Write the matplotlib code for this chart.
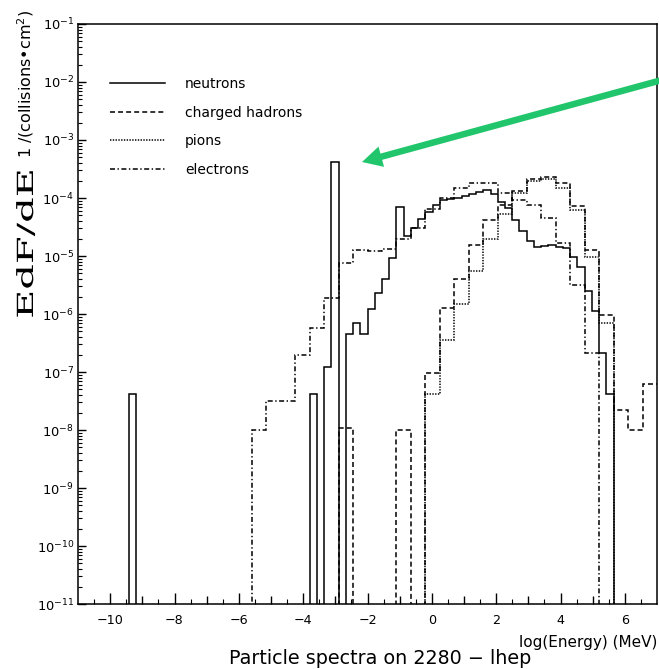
import numpy as np
import matplotlib
matplotlib.use('Agg')
import matplotlib.pyplot as plt
from matplotlib.lines import Line2D
from matplotlib.patches import FancyArrow
from matplotlib.patheffects import AbstractPathEffect
from matplotlib.transforms import Affine2D
from matplotlib.ticker import FixedLocator, LogLocator, NullFormatter, FuncFormatter

plt.rcParams['font.family'] = ['DejaVu Sans']
plt.rcParams['mathtext.default'] = 'regular'
plt.rcParams['lines.scale_dashes'] = False

# log10(E/MeV) range of the histograms
x_min, x_max = -11.0, 7.0

# neutrons: 80 bins of 0.225
neutrons = [
    0, 0, 0, 0, 0, 0, 0, 4.1e-8, 0, 0,
    0, 0, 0, 0, 0, 0, 0, 0, 0, 0,
    0, 0, 0, 0, 0, 0, 0, 0, 0, 0,
    0, 0, 4.1e-8, 0, 1.23e-7, 4.1e-4, 0, 4.6e-7, 7.1e-7, 4.6e-7,
    1.2e-6, 2.3e-6, 4.0e-6, 9.1e-6, 7.1e-5, 2.2e-5, 3.1e-5, 4.3e-5, 5.8e-5, 7.5e-5,
    9.2e-5, 9.5e-5, 1.0e-4, 1.1e-4, 1.17e-4, 1.27e-4, 1.39e-4, 1.17e-4, 8.7e-5, 6.8e-5,
    4.2e-5, 2.7e-5, 1.8e-5, 1.45e-5, 1.5e-5, 1.55e-5, 1.45e-5, 1.4e-5, 9.7e-6, 6.4e-6,
    2.5e-6, 1.12e-6, 2.1e-7, 4.1e-8, 0, 0, 0, 0, 0, 0,
]

# the other species: 40 bins of 0.45
charged_hadrons = [
    0, 0, 0, 0, 0, 0, 0, 0, 0, 0,
    0, 0, 0, 0, 0, 0, 0, 0, 1.07e-8, 0,
    0, 0, 1.0e-8, 0, 9.5e-8, 1.26e-6, 4.0e-6, 1.55e-5, 4.2e-5, 7.6e-5,
    1.3e-4, 2.1e-4, 2.3e-4, 1.8e-4, 7.3e-5, 1.27e-5, 9.6e-7, 2.2e-8, 1.0e-8, 6.3e-8,
]
pions = [
    0, 0, 0, 0, 0, 0, 0, 0, 0, 0,
    0, 0, 0, 0, 0, 0, 0, 0, 0, 0,
    0, 0, 0, 0, 4.1e-8, 3.6e-7, 1.5e-6, 5.6e-6, 2.0e-5, 5.4e-5,
    1.2e-4, 2.0e-4, 2.1e-4, 1.5e-4, 6.1e-5, 9.6e-6, 6.9e-7, 0, 0, 0,
]
electrons = [
    0, 0, 0, 0, 0, 0, 0, 0, 0, 0,
    0, 0, 1.0e-8, 3.2e-8, 3.2e-8, 2.0e-7, 5.8e-7, 1.9e-6, 7.5e-6, 1.27e-5,
    1.2e-5, 1.3e-5, 2.0e-5, 3.0e-5, 6.5e-5, 1.0e-4, 1.5e-4, 1.8e-4, 1.8e-4, 1.23e-4,
    9.2e-5, 7.6e-5, 4.5e-5, 1.7e-5, 3.2e-6, 2.1e-7, 0, 0, 0, 0,
]

labels = ['neutrons', 'charged hadrons', 'pions', 'electrons']
styles = ['-', (0, (3.6, 2.2)), (0, (1.0, 1.0)), (0, (3.6, 1.8, 1.0, 1.8))]


class Stretch(AbstractPathEffect):
    """Stretch a rotated text along its reading direction (display y)."""

    def __init__(self, sy):
        super().__init__()
        self.sy = sy

    def draw_path(self, renderer, gc, tpath, affine, rgbFace=None):
        pts = affine.transform(tpath.vertices)
        yc = 0.5 * (pts[:, 1].min() + pts[:, 1].max())
        extra = Affine2D().translate(0, -yc).scale(1, self.sy).translate(0, yc)
        renderer.draw_path(gc, tpath, affine + extra, rgbFace)


W, H = 659, 669
fig = plt.figure(figsize=(W / 100, H / 100), dpi=100)
ax = fig.add_axes([78 / W, 1 - 604 / H, 579 / W, 580 / H])

floor = 1e-14
for vals, ls in zip([neutrons, charged_hadrons, pions, electrons], styles):
    v = np.asarray(vals, dtype=float)
    edges = np.linspace(x_min, x_max, len(v) + 1)
    ax.stairs(np.where(v > 0, v, floor), edges, baseline=None,
              color='black', lw=1.1, linestyle=ls)

ax.set_yscale('log')
ax.set_xlim(x_min, x_max)
ax.set_ylim(1e-11, 1e-1)

for s in ax.spines.values():
    s.set_linewidth(1.1)

# y axis: decades, inward ticks
ax.yaxis.set_major_locator(LogLocator(base=10, numticks=20))
ax.yaxis.set_minor_locator(LogLocator(base=10, subs=np.arange(2, 10), numticks=20))
ax.yaxis.set_minor_formatter(NullFormatter())
ax.yaxis.set_major_formatter(FuncFormatter(lambda v, p: r'$10^{%d}$' % round(np.log10(v))))
ax.tick_params(axis='y', which='major', direction='in', length=5.8, width=1.0,
               labelsize=9.4, pad=3, right=False)
ax.tick_params(axis='y', which='minor', direction='in', length=2.9, width=0.8, right=False)

# x axis: long ticks at even, medium at odd, short at halves
ints = np.arange(-10, 7)
ax.xaxis.set_major_locator(FixedLocator(ints))
ax.xaxis.set_minor_locator(FixedLocator(np.arange(-10.5, 7.0, 1.0)))
ax.xaxis.set_major_formatter(FuncFormatter(lambda v, p: ('%d' % v).replace('-', '\u2212') if int(round(v)) % 2 == 0 else ''))
ax.tick_params(axis='x', which='major', direction='in', length=7.9, width=1.0,
               labelsize=9.2, pad=7, top=False)
ax.tick_params(axis='x', which='minor', direction='in', length=3.6, width=0.8, top=False)
for tick, loc in zip(ax.xaxis.get_major_ticks(), ints):
    if loc % 2 != 0:
        tick.tick1line.set_markersize(5.5)

handles = [Line2D([], [], color='black', lw=1.1, linestyle=ls) for ls in styles]
ax.legend(handles, labels, loc='upper left', bbox_to_anchor=(0.0553, 0.909),
          frameon=False, fontsize=10, handlelength=3.96, handletextpad=1.44,
          labelspacing=1.06, borderpad=0, borderaxespad=0)

# axis titles
fig.text(27 / W, 1 - 244 / H, 'EdF/dE', rotation=90, ha='center', va='center',
         family='DejaVu Serif', fontsize=16, path_effects=[Stretch(1.8)])
fig.text(26 / W, 1 - 84 / H, '1 /(collisions\u2022cm$^2$)', rotation=90,
         ha='center', va='center', fontsize=11.5)
fig.text(657 / W, 1 - 642 / H, 'log(Energy) (MeV)', ha='right', va='center', fontsize=11)
fig.text(380 / W, 1 - 658 / H, 'Particle spectra on 2280 \u2212 lhep',
         ha='center', va='center', fontsize=13.8)

# green pointer onto the low-energy neutron peak
fig.add_artist(FancyArrow(6.62, (H - 80) / 100, 3.62 - 6.62, (H - 162) / 100 - (H - 80) / 100,
                          width=0.065, head_width=0.21, head_length=0.2,
                          length_includes_head=True, color='#21c56b', lw=0,
                          transform=fig.dpi_scale_trans))

fig.savefig('out.png', dpi=100)
